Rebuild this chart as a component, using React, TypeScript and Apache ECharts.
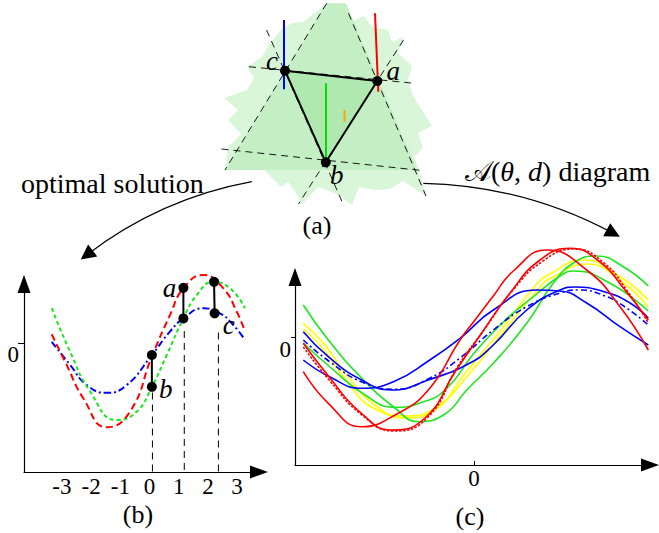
import React, { useEffect, useRef } from 'react';
import * as echarts from 'echarts';

// ---------------- Panel (a): sketch geometry (pixel-space hidden axes) ----------------
const aJagged: number[][] = [
  [327, 3], [334, 14], [346, 10], [353, 21], [364, 16], [372, 27], [388, 30], [392, 42], [404, 37],
  [398, 53], [412, 66], [408, 80], [413, 96], [432, 126], [418, 133], [423, 148], [414, 157], [419, 170],
  [426, 196], [403, 181], [390, 189], [375, 190], [359, 187], [352, 205], [342, 197], [332, 192],
  [318, 187], [302, 204], [296, 193], [288, 182], [281, 187], [265, 171], [255, 166], [225, 171],
  [228, 147], [241, 134], [228, 120], [238, 110], [224, 98], [247, 90], [254, 78], [247, 67],
  [262, 57], [270, 43], [283, 28], [292, 23], [303, 22], [315, 13],
];
const aUpTriangle: number[][] = [[326.7, 3.3], [346, 3.3], [417, 170], [225, 170]];
const aTriangle: number[][] = [[285, 70.7], [377.3, 81], [325.8, 162.3]]; // c, a, b
const aVertexNames = ['c', 'a', 'b'];
const aDashedLines: number[][][] = [
  [[326.7, 3.3], [225, 170]],
  [[348.5, 13.3], [426, 196]],
  [[221.5, 149], [423.3, 170.7]],
  [[249, 66.7], [411, 83]],
  [[266.6, 30], [344, 206]],
  [[403.5, 40], [298.5, 204]],
];
const aMarkerLines: number[][][] = [
  [[284, 20], [284, 89.3]],
  [[375, 13.3], [378.3, 91.7]],
  [[326, 83.3], [326, 160]],
  [[344.5, 110], [344.5, 121.7]],
];
const arrowPaths: number[][][] = [
  [[251.7, 181.7], [86.7, 255]],
  [[423.3, 183.3], [613.3, 233.3]],
];

// ---------------- Panel (b) ----------------
const bXTicks = [-3, -2, -1, 0, 1, 2, 3];
const bYTicks = [0];
const bRed: number[][] = [
  [-3.35, 0.29], [-2.84, -0.73], [-2.27, -1.84], [-1.47, -2.81], [-0.67, -2.29], [0.08, -0.45],
  [0.7, 0.93], [1.16, 1.82], [1.84, 2.27], [2.53, 1.82], [2.99, 1.04], [3.27, 0.38],
];
const bGreen: number[][] = [
  [-3.35, 1.16], [-2.72, -0.29], [-2.04, -1.61], [-1.12, -2.57], [-0.44, -2.29], [0.08, -1.46],
  [0.59, -0.4], [1.16, 0.82], [1.62, 1.6], [2.19, 2.04], [2.76, 1.82], [3.27, 1.16],
];
const bBlue: number[][] = [
  [-3.35, 0.04], [-2.72, -0.73], [-2.15, -1.4], [-1.47, -1.66], [-0.78, -1.4], [0.08, -0.4],
  [0.7, 0.38], [1.16, 0.82], [1.84, 1.16], [2.41, 0.99], [2.87, 0.6], [3.27, 0.1],
];
const bPointNames = ['a', 'b', 'c'];
const bUpper: number[][] = [[1.16, 1.84], [0.08, -0.4], [2.21, 2.04]];
const bLower: number[][] = [[1.16, 0.82], [0.08, -1.46], [2.23, 0.99]];
const bDropX = [1.19, 0.1, 2.36];
const bDropTop = [0.4, -1.65, 0.35];

// ---------------- Panel (c) ----------------
const cXTicks = [0];
const cYTicks = [0];
const cRed1: number[][] = [
  [-3.414, -0.68], [-2.914, -1.312], [-2.246, -1.78], [-1.58, -1.546], [-0.914, -1.046], [-0.28, -0.046],
  [0.02, 0.354], [0.386, 0.834], [0.786, 1.334], [1.454, 1.754], [2.254, 1.354], [2.92, 0.62], [3.486, -0.246],
];
const cRed2: number[][] = [
  [-3.414, -0.112], [-2.88, -0.806], [-2.28, -1.486], [-1.646, -1.846], [-0.98, -1.606], [-0.38, -0.686],
  [0.14, 0.074], [0.72, 0.894], [1.32, 1.554], [1.92, 1.788], [2.52, 1.514], [3.02, 0.954], [3.486, 0.354],
];
const cRedDotted: number[][] = [
  [-3.414, -0.186], [-2.88, -0.866], [-2.24, -1.546], [-1.6, -1.866], [-0.92, -1.586], [-0.32, -0.566],
  [0.2, 0.154], [0.78, 0.954], [1.38, 1.534], [2.0, 1.774], [2.6, 1.494], [3.08, 0.914], [3.486, 0.294],
];
const cBlue1: number[][] = [
  [-3.414, -0.446], [-2.88, -0.786], [-2.246, -1.012], [-1.58, -0.866], [-0.914, -0.466], [-0.28, -0.012],
  [0.386, 0.554], [1.254, 0.954], [1.72, 0.934], [2.254, 0.694], [2.92, 0.22], [3.486, -0.146],
];
const cBlueDashDot: number[][] = [
  [-3.414, -0.046], [-2.88, -0.486], [-2.24, -0.886], [-1.58, -1.032], [-0.88, -0.806], [-0.28, -0.406],
  [0.386, 0.154], [1.054, 0.62], [1.72, 0.894], [2.12, 0.954], [2.62, 0.834], [3.02, 0.614], [3.486, 0.254],
];
const cBlue2: number[][] = [
  [-3.414, 0.12], [-2.914, -0.38], [-2.246, -0.846], [-1.646, -1.046], [-0.914, -0.846], [-0.08, -0.506],
  [0.386, -0.146], [1.054, 0.554], [1.72, 0.954], [2.02, 1.014], [2.62, 0.914], [3.12, 0.694], [3.486, 0.394],
];
const cGreen1: number[][] = [
  [-3.414, 0.654], [-2.914, -0.046], [-2.246, -0.806], [-1.58, -1.406], [-1.114, -1.68], [-0.58, -1.526],
  [-0.146, -1.046], [0.386, -0.512], [1.054, 0.288], [1.586, 1.088], [2.02, 1.514], [2.454, 1.634],
  [2.986, 1.42], [3.486, 1.034],
];
const cGreen2: number[][] = [
  [-3.414, -0.106], [-2.88, -0.586], [-2.18, -1.146], [-1.58, -1.392], [-1.08, -1.306], [-0.58, -1.046],
  [0.02, -0.286], [0.586, 0.314], [1.254, 0.874], [1.72, 1.234], [1.986, 1.334], [2.72, 1.088], [3.486, 0.534],
];
const cYellow1: number[][] = [
  [-3.414, 0.288], [-2.98, -0.146], [-2.58, -0.706], [-1.98, -1.346], [-1.38, -1.606], [-0.78, -1.446],
  [-0.2, -0.74], [0.586, 0.214], [1.254, 1.074], [1.52, 1.274], [2.186, 1.554],
  [2.92, 1.22], [3.486, 0.754],
];
const cYellow2: number[][] = [
  [-3.414, 0.174], [-2.98, -0.266], [-2.58, -0.826], [-1.98, -1.426], [-1.32, -1.566], [-0.72, -1.366],
  [-0.16, -0.8], [0.62, 0.154], [1.32, 1.014], [1.58, 1.214], [2.26, 1.474],
  [2.96, 1.114], [3.486, 0.614],
];

// ---------------- styles ----------------
const SERIF = 'Liberation Serif';
const RED = '#ff0000';
const BLUE = '#0000ff';
const GREEN = '#1ee61e';
const YELLOW = '#ffff00';
const polyFills = ['#d9f6d9', '#c4efc4', '#b0e9b0'];
const markerColors = [BLUE, RED, '#00e000', '#ffa500'];

const GRIDS = [
  { left: 0, top: 0, width: 659, height: 533 },
  { left: 24, top: 284, width: 235, height: 188 },
  { left: 295, top: 277, width: 355, height: 188 },
];

function buildAxes(labels: boolean) {
  const line = labels
    ? { show: false, onZero: false }
    : { onZero: false, lineStyle: { color: '#000', width: 1.2 }, symbol: ['none', 'triangle'], symbolSize: [13, 18] };
  const lab = (values: number[], extra: any) =>
    labels
      ? { show: true, color: '#000', fontFamily: SERIF, fontSize: 23, customValues: values, ...extra }
      : { show: false };
  const tick = (values: number[], extra: any) =>
    labels ? { show: false } : { show: true, customValues: values, lineStyle: { color: '#000' }, ...extra };
  return {
    xAxis: [
      { gridIndex: 0, type: 'value', min: 0, max: 659, show: false },
      {
        gridIndex: 1, type: 'value', min: -4.3, max: 3.75, axisLine: line, splitLine: { show: false },
        axisTick: { show: false }, axisLabel: lab(bXTicks, { margin: 3 }),
      },
      {
        gridIndex: 2, type: 'value', min: -3.58, max: 3.52, axisLine: line, splitLine: { show: false },
        axisTick: tick(cXTicks, { inside: true, length: 4 }), axisLabel: lab(cXTicks, { margin: 2 }),
      },
    ],
    yAxis: [
      { gridIndex: 0, type: 'value', min: 0, max: 533, inverse: true, show: false },
      {
        gridIndex: 1, type: 'value', min: -4.3, max: 1.967, axisLine: line, splitLine: { show: false },
        axisTick: tick(bYTicks, { length: 6 }), axisLabel: lab(bYTicks, { margin: 5, verticalAlign: 'top' }),
      },
      {
        gridIndex: 2, type: 'value', min: -2.546, max: 1.214, axisLine: line, splitLine: { show: false },
        axisTick: tick(cYTicks, { length: 4 }), axisLabel: lab(cYTicks, { margin: 4, verticalAlign: 'top' }),
      },
    ],
  };
}

function buildDrawingOption(): any {
  const series: any[] = [];
  const polys = [aJagged, aUpTriangle, aTriangle];
  series.push({
    type: 'custom', xAxisIndex: 0, yAxisIndex: 0, silent: true, clip: false, z: 1,
    data: polys.map((_, i) => [i, 0]),
    renderItem: (_p: any, api: any) => {
      const i = api.value(0) as number;
      return {
        type: 'polygon',
        shape: { points: polys[i].map((pt) => api.coord(pt)) },
        style: { fill: polyFills[i] },
      };
    },
  });
  aDashedLines.forEach((ln) =>
    series.push({
      type: 'line', xAxisIndex: 0, yAxisIndex: 0, z: 2, symbol: 'none', silent: true,
      data: ln, lineStyle: { color: '#000', width: 0.9, type: [7, 5] },
    })
  );
  series.push({
    type: 'line', xAxisIndex: 0, yAxisIndex: 0, z: 3, symbol: 'none', silent: true,
    data: [...aTriangle, aTriangle[0]], lineStyle: { color: '#000', width: 2 },
  });
  aMarkerLines.forEach((ln, i) =>
    series.push({
      type: 'line', xAxisIndex: 0, yAxisIndex: 0, z: 4, symbol: 'none', silent: true,
      data: ln, lineStyle: { color: markerColors[i], width: 2 },
    })
  );
  series.push({
    type: 'scatter', xAxisIndex: 0, yAxisIndex: 0, z: 5, symbolSize: 10, silent: true,
    itemStyle: { color: '#000', opacity: 1 }, data: aTriangle,
  });
  series.push({
    type: 'lines', coordinateSystem: 'cartesian2d', xAxisIndex: 0, yAxisIndex: 0, z: 5, silent: true,
    symbol: ['none', 'triangle'], symbolSize: 15,
    lineStyle: { color: '#000', width: 1.2, opacity: 1 },
    data: arrowPaths.map((c, i) => ({ coords: c, lineStyle: { curveness: i === 0 ? -0.12 : 0.12 } })),
  });

  const bLine = (data: number[][], color: string, dash: number[]) => ({
    type: 'line', xAxisIndex: 1, yAxisIndex: 1, smooth: true, symbol: 'none', clip: false, silent: true,
    data, lineStyle: { color, width: 2, type: dash },
  });
  series.push(bLine(bBlue, BLUE, [7, 3, 2, 3]));
  series.push(bLine(bGreen, GREEN, [4, 3]));
  series.push(bLine(bRed, RED, [7, 4]));
  bDropX.forEach((x, i) =>
    series.push({
      type: 'line', xAxisIndex: 1, yAxisIndex: 1, symbol: 'none', silent: true,
      data: [[x, bDropTop[i]], [x, -4.3]], lineStyle: { color: '#000', width: 1, type: [7, 5] },
    })
  );
  bUpper.forEach((u, i) =>
    series.push({
      type: 'line', xAxisIndex: 1, yAxisIndex: 1, symbol: 'none', silent: true, clip: false, z: 3,
      data: [u, bLower[i]], lineStyle: { color: '#000', width: 2 },
    })
  );
  series.push({
    type: 'scatter', xAxisIndex: 1, yAxisIndex: 1, symbolSize: 10, silent: true, clip: false, z: 4,
    itemStyle: { color: '#000', opacity: 1 }, data: [...bUpper, ...bLower],
  });

  const cLine = (data: number[][], color: string, dash: any = 'solid') => ({
    type: 'line', xAxisIndex: 2, yAxisIndex: 2, smooth: true, symbol: 'none', clip: false, silent: true,
    data, lineStyle: { color, width: 1.6, type: dash },
  });
  series.push(cLine(cYellow1, YELLOW));
  series.push(cLine(cYellow2, YELLOW));
  series.push(cLine(cGreen1, GREEN));
  series.push(cLine(cGreen2, GREEN));
  series.push(cLine(cBlue1, BLUE));
  series.push(cLine(cBlue2, BLUE));
  series.push(cLine(cBlueDashDot, BLUE, [6, 3, 2, 3]));
  series.push(cLine(cRed1, RED));
  series.push(cLine(cRed2, RED));
  series.push(cLine(cRedDotted, RED, [2.5, 1.5]));

  return { animation: false, backgroundColor: '#fff', grid: GRIDS, ...buildAxes(false), series };
}

function buildTextOption(): any {
  const vertexOffsets = [[-13, -10], [16, -10], [11, 13]];
  const bLabelOffsets = [[-14, 0], [14, 2], [14, 12]];
  const italic = (name: string, offset: number[]) => ({
    show: true, formatter: name, position: 'inside', offset,
    fontFamily: SERIF, fontStyle: 'italic', fontSize: 27, color: '#000',
  });
  const bLabelled = [bLower[1], bLower[2], bUpper[0]];
  const bLabelIdx = [1, 2, 0];
  return {
    animation: false,
    grid: GRIDS,
    ...buildAxes(true),
    series: [
      {
        type: 'scatter', xAxisIndex: 0, yAxisIndex: 0, symbolSize: 1, silent: true,
        itemStyle: { color: '#000', opacity: 1 },
        data: aTriangle.map((pt, i) => ({ value: pt, label: italic(aVertexNames[i], vertexOffsets[i]) })),
      },
      {
        type: 'scatter', xAxisIndex: 1, yAxisIndex: 1, symbolSize: 1, silent: true, clip: false,
        itemStyle: { color: '#000', opacity: 1 },
        data: bLabelled.map((pt, k) => ({
          value: pt, label: italic(bPointNames[bLabelIdx[k]], bLabelOffsets[bLabelIdx[k]]),
        })),
      },
    ],
  };
}

const captionBase: React.CSSProperties = {
  position: 'absolute', fontFamily: SERIF, color: '#000', whiteSpace: 'nowrap',
  lineHeight: 1, pointerEvents: 'none', margin: 0,
};

export default function App() {
  const drawRef = useRef<HTMLDivElement>(null);
  const textRef = useRef<HTMLDivElement>(null);
  useEffect(() => {
    document.body.style.margin = '0';
    const drawing = echarts.init(drawRef.current as HTMLDivElement, null, { renderer: 'svg' });
    drawing.setOption(buildDrawingOption());
    const texts = echarts.init(textRef.current as HTMLDivElement, null, { renderer: 'svg' });
    texts.setOption(buildTextOption());
    return () => {
      texts.dispose();
      drawing.dispose();
    };
  }, []);
  const layer: React.CSSProperties = { position: 'absolute', left: 0, top: 0, width: 659, height: 533 };
  return (
    <div style={{ position: 'relative', width: 659, height: 533 }}>
      <div ref={drawRef} style={layer} />
      <div ref={textRef} style={{ ...layer, pointerEvents: 'none' }} />
      <div style={{ ...captionBase, left: 21, top: 170, fontSize: 28 }}>optimal solution</div>
      <div style={{ ...captionBase, left: 465, top: 158, fontSize: 28 }}>
        𝒜(<i>θ</i>, <i>d</i>) diagram
      </div>
      <div style={{ ...captionBase, left: 267, width: 100, textAlign: 'center', top: 213, fontSize: 26 }}>(a)</div>
      <div style={{ ...captionBase, left: 88, width: 100, textAlign: 'center', top: 502, fontSize: 26 }}>(b)</div>
      <div style={{ ...captionBase, left: 420, width: 100, textAlign: 'center', top: 504, fontSize: 26 }}>(c)</div>
    </div>
  );
}
